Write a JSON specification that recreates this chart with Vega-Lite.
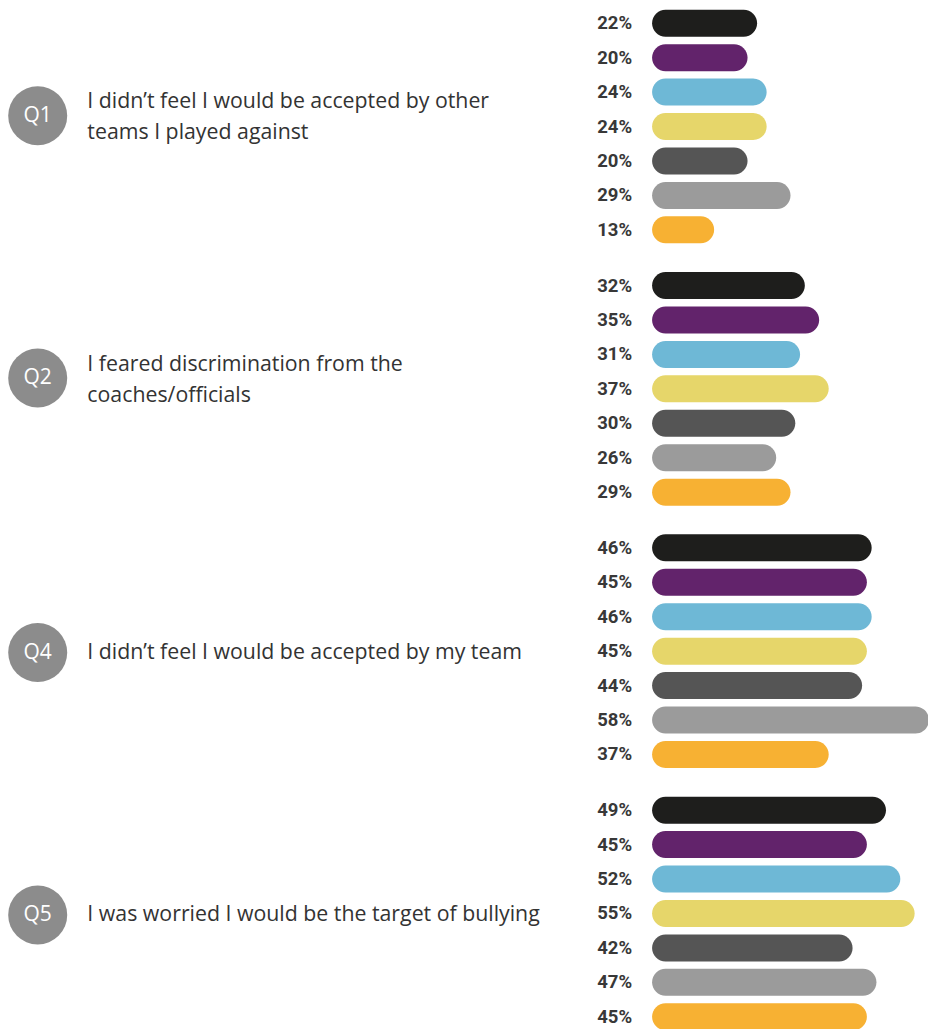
{
  "$schema": "https://vega.github.io/schema/vega-lite/v6.json",
  "width": 928,
  "height": 1028,
  "autosize": {"type": "none"},
  "padding": {"top": 6, "left": 0, "right": 0, "bottom": 0},
  "background": "#ffffff",
  "config": {"view": {"stroke": null}, "text": {"lineBreak": "\n"}},
  "datasets": {
    "bars": [
      {"question": "Q1", "series": "Series 1", "value": 0.22},
      {"question": "Q1", "series": "Series 2", "value": 0.20},
      {"question": "Q1", "series": "Series 3", "value": 0.24},
      {"question": "Q1", "series": "Series 4", "value": 0.24},
      {"question": "Q1", "series": "Series 5", "value": 0.20},
      {"question": "Q1", "series": "Series 6", "value": 0.29},
      {"question": "Q1", "series": "Series 7", "value": 0.13},
      {"question": "Q2", "series": "Series 1", "value": 0.32},
      {"question": "Q2", "series": "Series 2", "value": 0.35},
      {"question": "Q2", "series": "Series 3", "value": 0.31},
      {"question": "Q2", "series": "Series 4", "value": 0.37},
      {"question": "Q2", "series": "Series 5", "value": 0.30},
      {"question": "Q2", "series": "Series 6", "value": 0.26},
      {"question": "Q2", "series": "Series 7", "value": 0.29},
      {"question": "Q4", "series": "Series 1", "value": 0.46},
      {"question": "Q4", "series": "Series 2", "value": 0.45},
      {"question": "Q4", "series": "Series 3", "value": 0.46},
      {"question": "Q4", "series": "Series 4", "value": 0.45},
      {"question": "Q4", "series": "Series 5", "value": 0.44},
      {"question": "Q4", "series": "Series 6", "value": 0.58},
      {"question": "Q4", "series": "Series 7", "value": 0.37},
      {"question": "Q5", "series": "Series 1", "value": 0.49},
      {"question": "Q5", "series": "Series 2", "value": 0.45},
      {"question": "Q5", "series": "Series 3", "value": 0.52},
      {"question": "Q5", "series": "Series 4", "value": 0.55},
      {"question": "Q5", "series": "Series 5", "value": 0.42},
      {"question": "Q5", "series": "Series 6", "value": 0.47},
      {"question": "Q5", "series": "Series 7", "value": 0.45}
    ],
    "questions": [
      {"question": "Q1", "lines": 2, "text": "I didn’t feel I would be accepted by other\nteams I played against"},
      {"question": "Q2", "lines": 2, "text": "I feared discrimination from the\ncoaches/officials"},
      {"question": "Q4", "lines": 1, "text": "I didn’t feel I would be accepted by my team"},
      {"question": "Q5", "lines": 1, "text": "I was worried I would be the target of bullying"}
    ]
  },
  "layer": [
    {
      "data": {"name": "bars"},
      "mark": {"type": "bar", "cornerRadius": 13.5},
      "encoding": {
        "y": {"field": "question", "type": "nominal", "axis": null,
              "scale": {"domain": ["Q1", "Q2", "Q4", "Q5"], "paddingInner": 0.081, "paddingOuter": 0}},
        "yOffset": {"field": "series", "type": "nominal",
                    "scale": {"paddingInner": 0.216, "paddingOuter": 0.108}},
        "x": {"field": "value", "type": "quantitative", "axis": null,
              "scale": {"domain": [-1.366, 0.578], "nice": false, "zero": false}},
        "x2": {"datum": 0},
        "color": {"field": "series", "type": "nominal", "legend": null,
                  "scale": {"domain": ["Series 1", "Series 2", "Series 3", "Series 4", "Series 5", "Series 6", "Series 7"],
                            "range": ["#1e1e1c", "#62236b", "#6eb8d6", "#e6d66a", "#555555", "#9b9b9b", "#f7b133"]}}
      }
    },
    {
      "data": {"name": "bars"},
      "mark": {"type": "text", "align": "right", "baseline": "middle", "dx": -20, "font": "Roboto", "fontWeight": "bold", "fontSize": 18.5, "color": "#383838"},
      "encoding": {
        "y": {"field": "question", "type": "nominal"},
        "yOffset": {"field": "series", "type": "nominal"},
        "x": {"datum": 0},
        "text": {"field": "value", "type": "quantitative", "format": ".0%"}
      }
    },
    {
      "data": {"name": "questions"},
      "transform": [{"filter": {"field": "lines", "equal": 2}}],
      "mark": {"type": "point", "shape": "circle", "filled": true, "size": 3481, "color": "#8c8c8c", "opacity": 1},
      "encoding": {
        "y": {"field": "question", "type": "nominal", "bandPosition": 0.455},
        "x": {"datum": -1.287}
      }
    },
    {
      "data": {"name": "questions"},
      "transform": [{"filter": {"field": "lines", "equal": 1}}],
      "mark": {"type": "point", "shape": "circle", "filled": true, "size": 3481, "color": "#8c8c8c", "opacity": 1},
      "encoding": {
        "y": {"field": "question", "type": "nominal", "bandPosition": 0.506},
        "x": {"datum": -1.287}
      }
    },
    {
      "data": {"name": "questions"},
      "transform": [{"filter": {"field": "lines", "equal": 2}}],
      "mark": {"type": "text", "align": "center", "baseline": "middle", "font": "Open Sans", "fontSize": 21, "color": "#ffffff"},
      "encoding": {
        "y": {"field": "question", "type": "nominal", "bandPosition": 0.455},
        "x": {"datum": -1.287},
        "text": {"field": "question"}
      }
    },
    {
      "data": {"name": "questions"},
      "transform": [{"filter": {"field": "lines", "equal": 1}}],
      "mark": {"type": "text", "align": "center", "baseline": "middle", "font": "Open Sans", "fontSize": 21, "color": "#ffffff"},
      "encoding": {
        "y": {"field": "question", "type": "nominal", "bandPosition": 0.506},
        "x": {"datum": -1.287},
        "text": {"field": "question"}
      }
    },
    {
      "data": {"name": "questions"},
      "transform": [{"filter": {"field": "lines", "equal": 2}}],
      "mark": {"type": "text", "align": "left", "baseline": "middle", "font": "Open Sans", "fontSize": 21.3, "lineHeight": 31, "color": "#333333"},
      "encoding": {
        "y": {"field": "question", "type": "nominal", "bandPosition": 0.4},
        "x": {"datum": -1.183},
        "text": {"field": "text"}
      }
    },
    {
      "data": {"name": "questions"},
      "transform": [{"filter": {"field": "lines", "equal": 1}}],
      "mark": {"type": "text", "align": "left", "baseline": "middle", "font": "Open Sans", "fontSize": 21.3, "color": "#333333"},
      "encoding": {
        "y": {"field": "question", "type": "nominal", "bandPosition": 0.506},
        "x": {"datum": -1.183},
        "text": {"field": "text"}
      }
    }
  ]
}
